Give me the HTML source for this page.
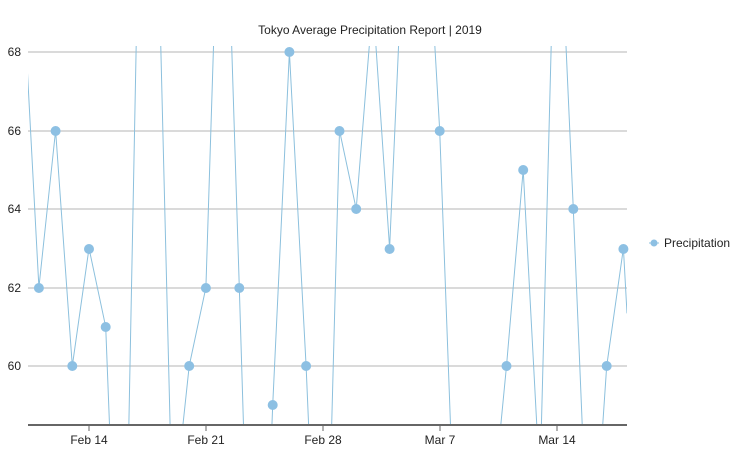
<!DOCTYPE html>
<html><head><meta charset="utf-8"><style>
html,body{margin:0;padding:0;background:#fff;width:736px;height:452px;overflow:hidden;}
svg{display:block;font-family:"Liberation Sans",sans-serif;}
</style></head><body>
<svg width="736" height="452" viewBox="0 0 736 452" xmlns="http://www.w3.org/2000/svg">
<rect width="736" height="452" fill="#fff"/>
<text x="370" y="34" font-size="12" text-anchor="middle" fill="#222">Tokyo Average Precipitation Report | 2019</text>
<g stroke="#b4b4b4" stroke-width="1">
<line x1="28" y1="52" x2="627" y2="52"/>
<line x1="28" y1="131" x2="627" y2="131"/>
<line x1="28" y1="209" x2="627" y2="209"/>
<line x1="28" y1="288" x2="627" y2="288"/>
<line x1="28" y1="366" x2="627" y2="366"/>
</g>
<g font-size="12" fill="#222" text-anchor="end">
<text x="21" y="56">68</text>
<text x="21" y="135">66</text>
<text x="21" y="213">64</text>
<text x="21" y="292">62</text>
<text x="21" y="370">60</text>
</g>
<defs><clipPath id="c"><rect x="28" y="46" width="599" height="379"/></clipPath></defs>
<g clip-path="url(#c)">
<polyline fill="none" stroke="#8cc0dd" stroke-width="1" points="25.95,44 38.9,287.5 55.6,130.5 72.3,366 89,248.25 105.7,326.75 109.58,427 128.81,427 136.22,44 160.72,44 170.14,427 182.71,427 189.2,366 205.9,287.5 213.58,44 231.62,44 239.3,287.5 243.54,427 271.86,427 272.7,405.25 289.4,52 306.1,366 308.7,427 331.62,427 339.5,130.5 356.2,209 369.45,44 375.8,44 389.6,248.25 398.65,44 434.73,44 439.7,130.5 450.57,427 500.6,427 506.5,366 523.2,169.75 536.88,427 541.36,427 551.24,44 565.91,44 573.3,209 582.31,427 602.58,427 606.7,366 623.4,248.25 627,313.4"/>
</g>
<g fill="#8dc0e3">
<circle cx="38.9" cy="288" r="5"/>
<circle cx="55.6" cy="131" r="5"/>
<circle cx="72.3" cy="366" r="5"/>
<circle cx="89" cy="249" r="5"/>
<circle cx="105.7" cy="327" r="5"/>
<circle cx="189.2" cy="366" r="5"/>
<circle cx="205.9" cy="288" r="5"/>
<circle cx="239.3" cy="288" r="5"/>
<circle cx="272.7" cy="405" r="5"/>
<circle cx="289.4" cy="52" r="5"/>
<circle cx="306.1" cy="366" r="5"/>
<circle cx="339.5" cy="131" r="5"/>
<circle cx="356.2" cy="209" r="5"/>
<circle cx="389.6" cy="249" r="5"/>
<circle cx="439.7" cy="131" r="5"/>
<circle cx="506.5" cy="366" r="5"/>
<circle cx="523.2" cy="170" r="5"/>
<circle cx="573.3" cy="209" r="5"/>
<circle cx="606.7" cy="366" r="5"/>
<circle cx="623.4" cy="249" r="5"/>
</g>
<line x1="28" y1="425" x2="627" y2="425" stroke="#666" stroke-width="2"/>
<g stroke="#666" stroke-width="1">
<line x1="89" y1="425" x2="89" y2="431"/>
<line x1="206" y1="425" x2="206" y2="431"/>
<line x1="323" y1="425" x2="323" y2="431"/>
<line x1="440" y1="425" x2="440" y2="431"/>
<line x1="557" y1="425" x2="557" y2="431"/>
</g>
<g font-size="12" fill="#222" text-anchor="middle">
<text x="89" y="444">Feb 14</text>
<text x="206" y="444">Feb 21</text>
<text x="323" y="444">Feb 28</text>
<text x="440" y="444">Mar 7</text>
<text x="557" y="444">Mar 14</text>
</g>
<line x1="649" y1="243" x2="659" y2="243" stroke="#8cc0dd" stroke-width="1"/>
<circle cx="654" cy="243" r="3.5" fill="#8dc0e3"/>
<text x="664" y="247" font-size="12" fill="#222">Precipitation</text>
</svg>
</body></html>
